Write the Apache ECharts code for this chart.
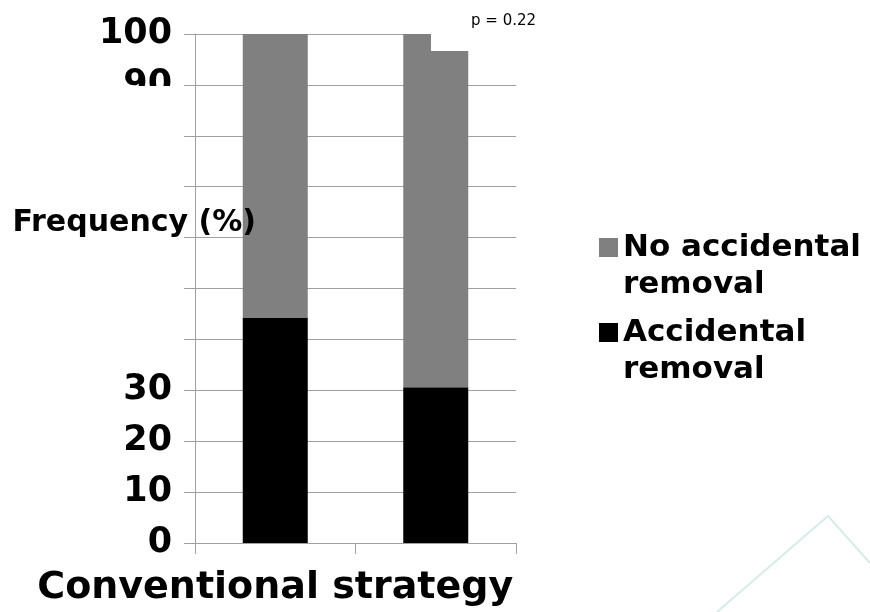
<!DOCTYPE html>
<html>
<head>
<meta charset="utf-8">
<script src="https://cdn.jsdelivr.net/npm/echarts@6/dist/echarts.min.js"></script>
<style>
  html, body { margin: 0; padding: 0; background: #ffffff; }
  #chart { width: 870px; height: 612px; }
</style>
</head>
<body>
<div id="chart"></div>
<script>
// Categories and stacked percentages (black = accidental removal, gray = no accidental removal)
const categories = ['Conventional strategy', ''];
const accidentalRemoval = [44.2, 30.6];
const noAccidentalRemoval = [55.8, 69.4];
const seriesNames = ['No accidental removal', 'Accidental removal'];
// leading blank line keeps the legend swatch level with the first text line
const legendLabels = ['\nNo accidental\nremoval', '\nAccidental\nremoval'];
// Y tick values that carry a printed label
const labelledTicks = [0, 10, 20, 30, 90, 100];
const yAxisTitle = 'Frequency (%)';
const pValueText = 'p = 0.22';

const FONT = 'DejaVu Sans';
const AXIS_GRAY = '#a0a0a0';

const chart = echarts.init(document.getElementById('chart'), null, { renderer: 'canvas' });

function legendFor(index, top) {
  return {
    show: true,
    orient: 'vertical',
    left: 599,
    top: top,
    padding: 0,
    icon: 'rect',
    itemWidth: 19,
    itemHeight: 19,
    selectedMode: false,
    data: [seriesNames[index]],
    formatter: () => legendLabels[index],
    textStyle: {
      fontFamily: FONT,
      fontWeight: 'bold',
      fontSize: 31,
      color: '#000',
      lineHeight: 37
    }
  };
}

const option = {
  animation: false,
  backgroundColor: '#ffffff',
  grid: { left: 195, right: 354, top: 34, bottom: 69, containLabel: false },
  xAxis: {
    type: 'category',
    data: categories,
    boundaryGap: true,
    axisLine: { show: true, lineStyle: { color: AXIS_GRAY, width: 1 } },
    axisTick: { show: true, length: 11, lineStyle: { color: AXIS_GRAY, width: 1 } },
    axisLabel: {
      interval: 0,
      margin: 26,
      color: '#000',
      fontFamily: FONT,
      fontWeight: 'bold',
      fontSize: 38
    },
    splitLine: { show: false }
  },
  yAxis: {
    type: 'value',
    min: 0,
    max: 100,
    interval: 10,
    axisLine: { show: true, lineStyle: { color: AXIS_GRAY, width: 1 } },
    axisTick: { show: true, length: 11, lineStyle: { color: AXIS_GRAY, width: 1 } },
    splitLine: { show: true, lineStyle: { color: AXIS_GRAY, width: 1 } },
    axisLabel: {
      margin: 23,
      color: '#000',
      fontFamily: FONT,
      fontWeight: 'bold',
      fontSize: 35,
      formatter: (v) => (labelledTicks.indexOf(v) >= 0 ? String(v) : '')
    }
  },
  legend: [legendFor(0, 192), legendFor(1, 277)],
  series: [
    {
      name: seriesNames[1],
      type: 'bar',
      stack: 'total',
      barWidth: 65,
      data: accidentalRemoval,
      itemStyle: { color: '#000000' }
    },
    {
      name: seriesNames[0],
      type: 'bar',
      stack: 'total',
      barWidth: 65,
      data: noAccidentalRemoval,
      itemStyle: { color: '#808080' }
    }
  ],
  graphic: [
    // faint decorative outline in the lower right corner
    {
      type: 'polyline',
      z: 0,
      silent: true,
      shape: { points: [[717, 612], [828, 516], [870, 563]] },
      style: { stroke: '#d7ecea', lineWidth: 2, fill: null }
    },
    // white strip that cuts off the lower half of the "90" label
    {
      type: 'rect',
      z: 50,
      silent: true,
      shape: { x: 95, y: 86, width: 87, height: 30 },
      style: { fill: '#ffffff' }
    },
    // y-axis title, drawn across the gridlines
    {
      type: 'text',
      z: 60,
      silent: true,
      x: 256,
      y: 223,
      style: {
        text: yAxisTitle,
        align: 'right',
        verticalAlign: 'middle',
        fontFamily: FONT,
        fontWeight: 'bold',
        fontSize: 30,
        fill: '#000'
      }
    },
    // white box behind the p-value annotation
    {
      type: 'rect',
      z: 50,
      silent: true,
      shape: { x: 431, y: 0, width: 115, height: 51 },
      style: { fill: '#ffffff' }
    },
    {
      type: 'text',
      z: 51,
      silent: true,
      left: 471,
      top: 14,
      style: {
        text: pValueText,
        fontFamily: FONT,
        fontSize: 15,
        fill: '#000'
      }
    }
  ]
};

chart.setOption(option);
</script>
</body>
</html>
